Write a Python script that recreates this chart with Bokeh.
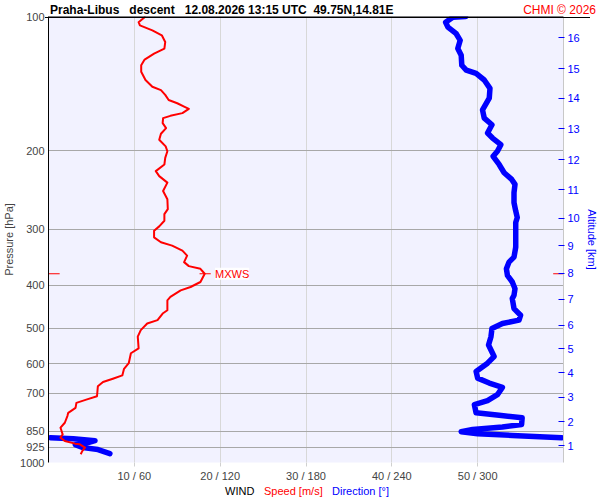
from bokeh.plotting import figure
from bokeh.models import Range1d, LogAxis, FixedTicker, Label, Span, Div
from bokeh.layouts import column
from bokeh.embed import file_html
from bokeh.resources import INLINE

# ---------------- data ----------------
title_parts = ["Praha-Libus", "descent", "12.08.2026 13:15 UTC", "49.75N,14.81E"]
credit_text = "CHMI \u00a9 2026"
legend_parts = ["WIND", "Speed [m/s]", "Direction [\u00b0]"]

pressure_ticks = [100, 200, 300, 400, 500, 600, 700, 850, 925, 1000]
wind_ticks = [10, 20, 30, 40, 50]
wind_tick_labels = ["10 / 60", "20 / 120", "30 / 180", "40 / 240", "50 / 300"]

altitude_km = [1, 2, 3, 4, 5, 6, 7, 8, 9, 10, 11, 12, 13, 14, 15, 16]
altitude_hpa = [918, 810, 714, 629.4, 556.4, 492, 430.6, 376.9, 326.4, 283.2,
                244.9, 209.3, 178.5, 152.5, 130.8, 111.5]

speed_hpa = [100, 103.0, 104.7, 107.4, 110.2, 114.1, 118.0, 121.1, 124.9, 128.6,
             133.0, 138.8, 143.7, 146.2, 149.9, 153.9, 156.5, 159.2, 161.1, 164.7,
             167.0, 169.0, 173.4, 177.9, 183.2, 188.9, 195.5, 200.5, 207.5, 214.7,
             222.2, 228.0, 235.8, 246.2, 256.9, 270.4, 277.4, 287.1, 295.5, 302.3,
             312.7, 320.8, 326.4, 334.9, 343.6, 355.4, 362.8, 367.9, 377.4, 393.8,
             404.1, 411.2, 425.4, 432.9, 455.7, 463.4, 479.6, 487.9, 504.9, 522.3,
             554.6, 568.9, 598.8, 616.6, 637.8, 649.0, 660.1, 674.9, 710.3, 722.8,
             735.2, 754.3, 773.8, 787.0, 814.5, 835.6, 864.9, 879.6, 894.7, 907.2,
             910.4, 926.0, 941.8, 958.3]
speed_ms = [11.3, 10.5, 10.65, 12.1, 13.2, 13.6, 13.5, 12.3, 11.2, 10.8,
            10.8, 11.3, 12.1, 13.1, 13.6, 14.0, 15.0, 15.8, 16.35, 15.6,
            14.2, 13.35, 13.3, 13.7, 13.1, 12.9, 13.65, 13.85, 13.6, 13.5,
            12.5, 12.9, 13.85, 13.35, 13.85, 13.9, 13.5, 13.5, 12.9, 12.3,
            12.3, 13.1, 14.4, 15.6, 16.15, 15.8, 16.35, 17.7, 18.2, 17.7,
            16.55, 15.4, 14.2, 13.85, 13.85, 13.3, 12.7, 11.5, 10.75, 10.4,
            10.5, 9.6, 9.35, 8.8, 8.6, 7.5, 6.35, 5.75, 5.65, 4.4,
            3.25, 3.15, 2.3, 2.2, 1.9, 1.4, 1.65, 1.4, 1.9, 3.1,
            3.65, 4.25, 3.95, 3.75]

direction_hpa = [100, 100.4, 103.0, 105.6, 109.3, 113.1, 118.0, 122.2, 128.6, 131.9,
                 134.2, 138.8, 144.9, 152.5, 162.0, 169.0, 174.9, 182.5, 187.3, 193.8,
                 200.5, 205.8, 214.7, 224.0, 231.9, 237.9, 248.2, 261.4, 272.9, 282.3,
                 289.6, 329.1, 346.4, 355.4, 367.9, 380.7, 393.8, 407.6, 421.9, 429.1,
                 451.7, 467.5, 479.6, 487.9, 500.5, 522.3, 545.3, 578.6, 598.8, 624.9,
                 646.8, 663.5, 678.5, 704.6, 726.6, 741.8, 773.8, 783.1, 794.0, 821.7,
                 832.7, 843.0, 853.1, 861.8, 869.4, 879.6, 879.6, 884.1, 893.3, 902.6,
                 911.8, 926.0, 935.4, 955.0]
direction_deg = [291.5, 282.7, 277.6, 279.2, 285.0, 287.8, 286.1, 288.5, 288.9, 292.0,
                 298.9, 304.6, 308.6, 308.1, 303.4, 304.6, 310.0, 306.9, 310.4, 316.2,
                 313.8, 310.8, 315.0, 318.5, 323.8, 326.1, 325.4, 325.4, 326.6, 327.7,
                 326.6, 326.6, 325.4, 321.9, 320.1, 320.8, 324.2, 326.1, 325.4, 324.2,
                 325.4, 330.0, 328.9, 317.3, 310.0, 309.3, 307.6, 311.5, 306.9, 298.9,
                 300.0, 308.1, 317.3, 313.8, 306.9, 297.7, 298.9, 315.0, 331.1, 330.7,
                 317.3, 296.5, 288.5, 300.0, 324.2, 358.8, 1.4, 17.3, 32.5, 27.7,
                 18.7, 24.2, 34.6, 42.9]

# ---------------- styles ----------------
FONT = "Liberation Sans"
RED = "#FF0000"
BLUE = "#0000FF"

p = figure(width=600, height=474,
           x_range=Range1d(0, 60), y_range=Range1d(1000, 100),
           y_axis_type="log", output_backend="svg", toolbar_location=None,
           min_border_left=45, min_border_right=35,
           min_border_top=6, min_border_bottom=19)
p.margin = 0
p.extra_x_ranges = {"dir": Range1d(0, 360)}
p.background_fill_color = "#F2F2FF"
p.border_fill_color = None
p.outline_line_color = None

# left pressure axis
ya = p.yaxis[0]
ya.ticker = FixedTicker(ticks=pressure_ticks)
ya.major_label_overrides = {t: str(t) for t in pressure_ticks}
ya.major_tick_in = 0
ya.major_tick_out = 0
ya.minor_tick_line_color = None
ya.major_tick_line_color = None
ya.axis_line_color = "black"
ya.axis_label = "Pressure [hPa]"
ya.axis_label_text_font = FONT
ya.axis_label_text_font_style = "normal"
ya.axis_label_text_font_size = "11px"
ya.major_label_text_font = FONT
ya.major_label_text_font_size = "11px"
ya.major_label_standoff = 4
ya.axis_label_standoff = 2

# bottom wind axis
xa = p.xaxis[0]
xa.ticker = FixedTicker(ticks=wind_ticks)
xa.major_label_overrides = dict(zip(wind_ticks, wind_tick_labels))
xa.axis_line_color = None
xa.major_tick_line_color = "#D0D0D0"
xa.major_tick_in = 0
xa.major_tick_out = 4
xa.minor_tick_line_color = None
xa.major_label_text_font = FONT
xa.major_label_text_font_size = "11px"
xa.major_label_standoff = 3

p.ygrid.grid_line_color = "#A8A8A8"
p.xgrid.grid_line_color = "#D8D8D8"

# right altitude axis
ra = LogAxis(ticker=FixedTicker(ticks=altitude_hpa),
             major_label_overrides={h: str(k) for h, k in zip(altitude_hpa, altitude_km)},
             axis_label="Altitude [km]")
ra.axis_line_color = "#C8C8C8"
ra.major_tick_line_color = BLUE
ra.major_tick_in = 5
ra.major_tick_out = 1
ra.minor_tick_line_color = None
ra.major_label_text_color = BLUE
ra.major_label_text_font = FONT
ra.major_label_text_font_size = "11px"
ra.major_label_standoff = 3
ra.axis_label_text_color = BLUE
ra.axis_label_text_font = FONT
ra.axis_label_text_font_style = "normal"
ra.axis_label_text_font_size = "11px"
ra.axis_label_standoff = 3
p.add_layout(ra, "right")

p.add_layout(Span(location=100, dimension="width", line_color="black", line_width=1))

# direction line, broken where it wraps through north
dir_x, dir_y = [], []
for i, (d, h) in enumerate(zip(direction_deg, direction_hpa)):
    if i > 0 and abs(d - direction_deg[i - 1]) > 180:
        dir_x.append(float("nan"))
        dir_y.append(float("nan"))
    dir_x.append(d)
    dir_y.append(h)
p.line(dir_x, dir_y, x_range_name="dir", line_color=BLUE, line_width=5.5,
       line_join="round", line_cap="round")

# speed line
p.line(speed_ms, speed_hpa, line_color=RED, line_width=2, line_join="round")

# max wind marker
imax = max(range(len(speed_ms)), key=lambda i: speed_ms[i])
s_max, p_max = speed_ms[imax], speed_hpa[imax]
p.segment(x0=[s_max - 0.6], x1=[s_max + 0.7], y0=[p_max], y1=[p_max], line_color=RED, line_width=1)
p.segment(x0=[0, 58.8], x1=[1.3, 60], y0=[p_max, p_max], y1=[p_max, p_max], line_color=RED, line_width=1)
p.add_layout(Label(x=s_max + 1.2, y=p_max, text="MXWS", text_color=RED, text_font=FONT,
                   text_font_size="11px", text_baseline="middle", text_align="left",
                   background_fill_color="white", background_fill_alpha=0.9))

# header (title + credit) and footer (legend line) as real HTML text
sp3 = "&nbsp;&nbsp;&nbsp;"
sp2 = "&nbsp;&nbsp;"
title_html = (title_parts[0] + sp3 + title_parts[1] + sp3 + title_parts[2] + sp2 + title_parts[3])
head_html = (
    f"<div style=\"position:relative;width:600px;height:10px;overflow:visible;font-family:'{FONT}';font-size:12px;line-height:14px;\">"
    f"<span style=\"position:absolute;left:50px;top:1px;font-weight:bold;color:black;white-space:nowrap;\">{title_html}</span>"
    f"<span style=\"position:absolute;right:4px;top:1px;color:{RED};white-space:nowrap;\">{credit_text}</span>"
    f"<div style=\"position:absolute;left:45px;top:15px;width:545px;height:1px;background:black;\"></div>"
    "</div>"
)
head = Div(text=head_html, width=600, height=10, margin=0,
           styles={"overflow": "visible", "z-index": "2"})

foot_html = (
    f"<div style=\"position:relative;width:600px;height:16px;font-family:'{FONT}';font-size:11px;line-height:14px;\">"
    f"<span style=\"position:absolute;left:225px;top:0px;color:black;\">{legend_parts[0]}</span>"
    f"<span style=\"position:absolute;left:264px;top:0px;color:{RED};\">{legend_parts[1]}</span>"
    f"<span style=\"position:absolute;left:332px;top:0px;color:{BLUE};\">{legend_parts[2]}</span>"
    "</div>"
)
foot = Div(text=foot_html, width=600, height=16, margin=0)

layout = column(head, p, foot, spacing=0)

open("out.html", "w").write(file_html(layout, INLINE))
